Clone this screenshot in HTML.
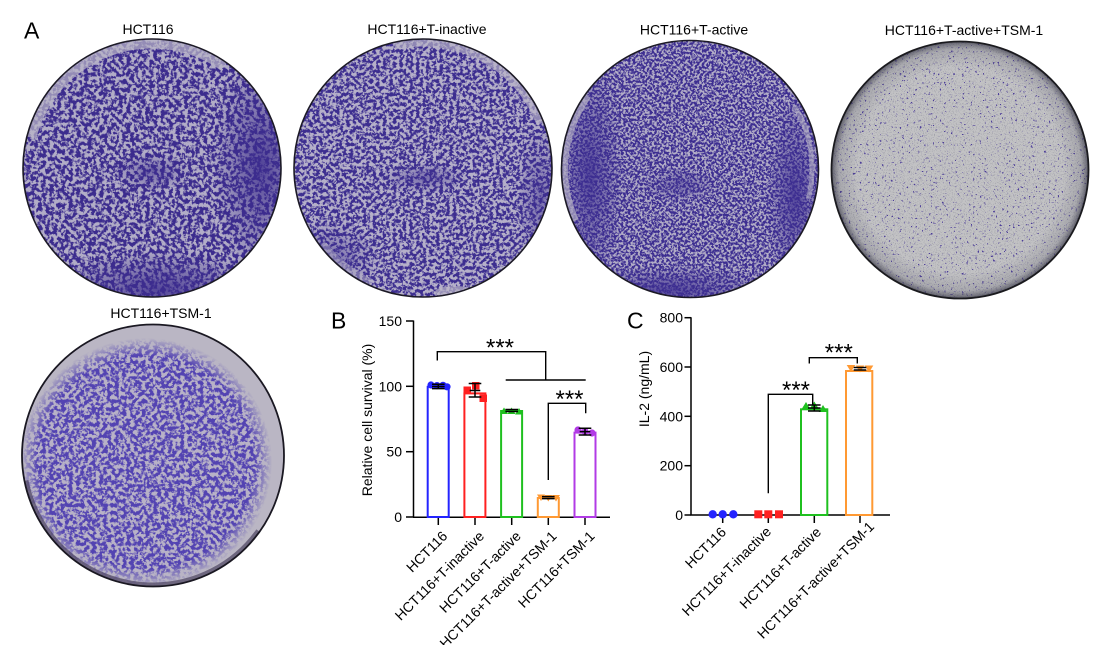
<!DOCTYPE html>
<html><head><meta charset="utf-8"><style>
html,body{margin:0;padding:0;background:#fff;}
svg{display:block;}
text{font-family:"Liberation Sans",Arial,sans-serif;fill:#000;}
</style></head><body>
<svg width="1103" height="645" viewBox="0 0 1103 645" xmlns="http://www.w3.org/2000/svg">
<defs>
 <clipPath id="c1"><circle cx="152" cy="168" r="129"/></clipPath>
 <clipPath id="c2"><circle cx="423" cy="168" r="129"/></clipPath>
 <clipPath id="c3"><circle cx="690" cy="169" r="128.5"/></clipPath>
 <clipPath id="c4"><circle cx="960" cy="170" r="128.5"/></clipPath>
 <clipPath id="c5"><circle cx="153" cy="455.5" r="131"/></clipPath>

 <filter id="sp1" color-interpolation-filters="sRGB" x="0" y="0" width="1" height="1">
  <feTurbulence type="fractalNoise" baseFrequency="0.26" numOctaves="3" seed="3"/>
  <feColorMatrix type="matrix" values="0 0 0 0 0.70  0 0 0 0 0.68  0 0 0 0 0.78  7 0 0 0 -3.05"/>
 </filter>
 <filter id="sp2" color-interpolation-filters="sRGB" x="0" y="0" width="1" height="1">
  <feTurbulence type="fractalNoise" baseFrequency="0.3" numOctaves="3" seed="11"/>
  <feColorMatrix type="matrix" values="0 0 0 0 0.71  0 0 0 0 0.69  0 0 0 0 0.79  7 0 0 0 -3.0"/>
 </filter>
 <filter id="sp3" color-interpolation-filters="sRGB" x="0" y="0" width="1" height="1">
  <feTurbulence type="fractalNoise" baseFrequency="0.42" numOctaves="3" seed="21"/>
  <feColorMatrix type="matrix" values="0 0 0 0 0.70  0 0 0 0 0.68  0 0 0 0 0.78  7 0 0 0 -3.1"/>
 </filter>
 <filter id="sp5" color-interpolation-filters="sRGB" x="0" y="0" width="1" height="1">
  <feTurbulence type="fractalNoise" baseFrequency="0.26" numOctaves="3" seed="31"/>
  <feColorMatrix type="matrix" values="0 0 0 0 0.72  0 0 0 0 0.70  0 0 0 0 0.78  7 0 0 0 -3.05"/>
 </filter>
 <filter id="sp4a" color-interpolation-filters="sRGB" x="0" y="0" width="1" height="1">
  <feTurbulence type="fractalNoise" baseFrequency="0.9" numOctaves="2" seed="41"/>
  <feColorMatrix type="matrix" values="0 0 0 0 0.55  0 0 0 0 0.55  0 0 0 0 0.60  6 0 0 0 -3.3"/>
 </filter>
 <filter id="sp4b" color-interpolation-filters="sRGB" x="0" y="0" width="1" height="1">
  <feTurbulence type="fractalNoise" baseFrequency="0.45" numOctaves="2" seed="7"/>
  <feColorMatrix type="matrix" values="0 0 0 0 0.30  0 0 0 0 0.24  0 0 0 0 0.6  20 0 0 0 -13.6"/>
 </filter>

 <radialGradient id="fb"><stop offset="0" stop-color="#000" stop-opacity="0.8"/><stop offset="1" stop-color="#000" stop-opacity="0"/></radialGradient>
 <radialGradient id="fb2"><stop offset="0" stop-color="#000" stop-opacity="0.5"/><stop offset="1" stop-color="#000" stop-opacity="0"/></radialGradient>
 <radialGradient id="rim4" cx="0.5" cy="0.5" r="0.5">
  <stop offset="0.8" stop-color="#505060" stop-opacity="0"/>
  <stop offset="0.94" stop-color="#505060" stop-opacity="0.22"/>
  <stop offset="1" stop-color="#303040" stop-opacity="0.7"/>
 </radialGradient>
 <radialGradient id="m5g" cx="0.5" cy="0.5" r="0.5">
  <stop offset="0.86" stop-color="#fff"/>
  <stop offset="1" stop-color="#000"/>
 </radialGradient>

 <mask id="m1" maskUnits="userSpaceOnUse" x="0" y="0" width="1103" height="645">
  <rect x="0" y="0" width="1103" height="645" fill="#fff"/>
  <ellipse cx="262" cy="165" rx="50" ry="115" fill="url(#fb)"/>
  <ellipse cx="160" cy="290" rx="115" ry="40" fill="url(#fb)"/>
  <ellipse cx="152" cy="172" rx="40" ry="20" fill="url(#fb2)"/>
 </mask>
 <mask id="m2" maskUnits="userSpaceOnUse" x="0" y="0" width="1103" height="645">
  <rect x="0" y="0" width="1103" height="645" fill="#fff"/>
  <ellipse cx="425" cy="178" rx="45" ry="16" fill="url(#fb2)"/>
  <ellipse cx="330" cy="260" rx="50" ry="40" fill="url(#fb2)"/>
  <ellipse cx="540" cy="200" rx="25" ry="80" fill="url(#fb2)"/>
 </mask>
 <mask id="m3" maskUnits="userSpaceOnUse" x="0" y="0" width="1103" height="645">
  <rect x="0" y="0" width="1103" height="645" fill="#fff"/>
  <ellipse cx="590" cy="175" rx="35" ry="120" fill="url(#fb)"/>
  <ellipse cx="795" cy="195" rx="30" ry="100" fill="url(#fb)"/>
  <ellipse cx="670" cy="290" rx="110" ry="25" fill="url(#fb)"/>
  <ellipse cx="680" cy="185" rx="40" ry="18" fill="url(#fb2)"/>
 </mask>
 <mask id="m5" maskUnits="userSpaceOnUse" x="0" y="0" width="1103" height="645">
  <rect x="0" y="0" width="1103" height="645" fill="#000"/>
  <ellipse cx="146" cy="462" rx="126" ry="124" fill="url(#m5g)"/>
 </mask>
</defs>

<rect x="0" y="0" width="1103" height="645" fill="#fff"/>

<!-- Panel A -->
<text x="24" y="38.5" font-size="23">A</text>
<text x="148" y="34" font-size="14" text-anchor="middle">HCT116</text>
<text x="427" y="34" font-size="14" text-anchor="middle">HCT116+T-inactive</text>
<text x="694" y="34.5" font-size="14" text-anchor="middle">HCT116+T-active</text>
<text x="964" y="35" font-size="14" text-anchor="middle">HCT116+T-active+TSM-1</text>
<text x="161" y="318" font-size="14" text-anchor="middle">HCT116+TSM-1</text>

<!-- Plate 1 -->
<g clip-path="url(#c1)">
 <rect x="23" y="39" width="258" height="258" fill="#3c2c8e"/>
 <rect x="23" y="39" width="258" height="258" filter="url(#sp1)" mask="url(#m1)"/>
 <circle cx="152" cy="168" r="124" fill="none" stroke="#b9b5c8" stroke-width="9" stroke-opacity="0.7" stroke-dasharray="240 540" stroke-dashoffset="-420"/>
</g>
<circle cx="152" cy="168" r="129" fill="none" stroke="#1c1a26" stroke-width="1.6"/>

<!-- Plate 2 -->
<g clip-path="url(#c2)">
 <rect x="294" y="39" width="258" height="258" fill="#3d2e90"/>
 <rect x="294" y="39" width="258" height="258" filter="url(#sp2)" mask="url(#m2)"/>
 <circle cx="423" cy="168" r="125" fill="none" stroke="#bab6c8" stroke-width="7" stroke-opacity="0.65" stroke-dasharray="180 600" stroke-dashoffset="-560"/>
 <circle cx="423" cy="168" r="125" fill="none" stroke="#bab6c8" stroke-width="6" stroke-opacity="0.45" stroke-dasharray="60 720" stroke-dashoffset="-250"/>
 <ellipse cx="455" cy="292" rx="20" ry="6" fill="#bcb8c8" opacity="0.7"/>
</g>
<circle cx="423" cy="168" r="129" fill="none" stroke="#1c1a26" stroke-width="1.6"/>

<!-- Plate 3 -->
<g clip-path="url(#c3)">
 <rect x="561" y="40" width="258" height="258" fill="#3d2e91"/>
 <rect x="561" y="40" width="258" height="258" filter="url(#sp3)" mask="url(#m3)"/>
 <circle cx="690" cy="169" r="125" fill="none" stroke="#b8b4c6" stroke-width="6" stroke-opacity="0.65" stroke-dasharray="130 650" stroke-dashoffset="-340"/>
 <circle cx="690" cy="169" r="122" fill="none" stroke="#b8b4c6" stroke-width="5" stroke-opacity="0.55" stroke-dasharray="110 670" stroke-dashoffset="-700"/>
</g>
<circle cx="690" cy="169" r="128.5" fill="none" stroke="#1c1a26" stroke-width="1.6"/>

<!-- Plate 4 -->
<g clip-path="url(#c4)">
 <rect x="831" y="41" width="258" height="258" fill="#c2c2c4"/>
 <rect x="831" y="41" width="258" height="258" filter="url(#sp4a)" opacity="0.55"/>
 <rect x="831" y="41" width="258" height="258" filter="url(#sp4b)"/>
 <circle cx="960" cy="170" r="128.5" fill="url(#rim4)"/>
</g>
<circle cx="960" cy="170" r="128.5" fill="none" stroke="#1a1a1e" stroke-width="1.8"/>

<!-- Plate 5 -->
<g clip-path="url(#c5)">
 <rect x="22" y="324" width="262" height="264" fill="#bab6c4"/>
 <g mask="url(#m5)">
  <rect x="22" y="324" width="262" height="264" fill="#5343b2"/>
  <rect x="22" y="324" width="262" height="264" filter="url(#sp5)"/>
 </g>
 <circle cx="153" cy="455.5" r="129" fill="none" stroke="#3a3050" stroke-width="4" stroke-opacity="0.6" stroke-dasharray="300 524" stroke-dashoffset="-80"/>
</g>
<circle cx="153" cy="455.5" r="131" fill="none" stroke="#1a1822" stroke-width="1.8"/>

<!-- Panel B -->
<text x="331" y="328.3" font-size="23">B</text>
<g stroke="#000" stroke-width="1.5" fill="none">
 <line x1="413.5" y1="320.5" x2="413.5" y2="517.5"/>
 <line x1="413" y1="517.3" x2="610" y2="517.3"/>
 <line x1="406" y1="321" x2="413.5" y2="321"/>
 <line x1="406" y1="386.3" x2="413.5" y2="386.3"/>
 <line x1="406" y1="451.7" x2="413.5" y2="451.7"/>
 <line x1="406" y1="517" x2="413.5" y2="517"/>
 <line x1="438.3" y1="517" x2="438.3" y2="525"/>
 <line x1="475" y1="517" x2="475" y2="525"/>
 <line x1="511.7" y1="517" x2="511.7" y2="525"/>
 <line x1="548.3" y1="517" x2="548.3" y2="525"/>
 <line x1="585" y1="517" x2="585" y2="525"/>
</g>
<g font-size="14" text-anchor="end">
 <text x="402" y="326">150</text>
 <text x="402" y="391.3">100</text>
 <text x="402" y="456.7">50</text>
 <text x="402" y="522">0</text>
</g>
<text transform="translate(372,420) rotate(-90)" font-size="14" text-anchor="middle">Relative cell survival (%)</text>

<!-- B bars -->
<g fill="none" stroke-width="2">
 <rect x="427.7" y="386.8" width="21" height="130.2" stroke="#2424ff"/>
 <rect x="464.4" y="393.4" width="21" height="123.6" stroke="#ff2020"/>
 <rect x="501.1" y="411" width="21" height="106" stroke="#1fc01f"/>
 <rect x="537.8" y="498" width="21" height="19" stroke="#ff9933"/>
 <rect x="574.5" y="432.6" width="21" height="84.4" stroke="#b23be6"/>
</g>
<!-- B points -->
<g fill="#2424ff">
 <circle cx="431" cy="385" r="3.6"/><circle cx="437" cy="385.6" r="3.6"/><circle cx="443" cy="385.3" r="3.6"/><circle cx="447" cy="386.8" r="3.6"/>
</g>
<g fill="#ff2020">
 <rect x="463.5" y="386.5" width="7.5" height="7.5"/><rect x="472" y="382" width="7.5" height="7.5"/><rect x="479.5" y="394.5" width="7.5" height="7.5"/>
</g>
<g fill="#1fc01f">
 <path d="M504 407.5 L508 414 L500 414Z"/><path d="M511.5 407.5 L515.5 414 L507.5 414Z"/><path d="M519 408 L523 414.5 L515 414.5Z"/>
</g>
<g fill="#ff9933">
 <path d="M537 494.5 L545 494.5 L541 501Z"/><path d="M544.3 495 L552.3 495 L548.3 501.5Z"/><path d="M552 495 L560 495 L556 501.5Z"/>
</g>
<g fill="#b23be6">
 <circle cx="578" cy="430" r="3.6"/><circle cx="585" cy="431.5" r="3.6"/><circle cx="592" cy="433" r="3.6"/>
</g>
<!-- B error bars -->
<g stroke="#000" stroke-width="1.5" fill="none">
 <path d="M432 384.3 H444.6 M438.3 384.3 V388.6 M432 388.6 H444.6 M432 386.5 H444.6"/>
 <path d="M468.7 383.5 H481.3 M475 383.5 V397 M468.7 397 H481.3 M469.7 390.5 H480.3"/>
 <path d="M505.4 409.5 H518 M505.4 411.5 H518"/>
 <path d="M542 496.6 H554.6 M542 498.6 H554.6"/>
 <path d="M578.7 428.2 H591.3 M585 428.2 V435 M578.7 435 H591.3 M579.7 431.6 H590.3"/>
</g>
<!-- B brackets -->
<g stroke="#000" stroke-width="1.4" fill="none">
 <path d="M437.3 360.5 V351.7 H545.7 V380"/>
 <path d="M505.7 380 H585.7"/>
 <path d="M548.3 480 V403.3 H585.7 V413.3"/>
</g>
<text x="500" y="355.5" font-size="24" text-anchor="middle">***</text>
<text x="569.5" y="407" font-size="24" text-anchor="middle">***</text>
<!-- B x labels -->
<g font-size="14" text-anchor="end">
 <text transform="translate(448.3,537) rotate(-45)">HCT116</text>
 <text transform="translate(485,537) rotate(-45)">HCT116+T-inactive</text>
 <text transform="translate(521.7,537) rotate(-45)">HCT116+T-active</text>
 <text transform="translate(557.5,537) rotate(-45)">HCT116+T-active+TSM-1</text>
 <text transform="translate(595.5,537) rotate(-45)">HCT116+TSM-1</text>
</g>

<!-- Panel C -->
<text x="627" y="328.3" font-size="23">C</text>
<g stroke="#000" stroke-width="1.5" fill="none">
 <line x1="691" y1="317.2" x2="691" y2="515.5"/>
 <line x1="690.5" y1="515" x2="890" y2="515"/>
 <line x1="684.5" y1="317.7" x2="691" y2="317.7"/>
 <line x1="684.5" y1="367" x2="691" y2="367"/>
 <line x1="684.5" y1="416.3" x2="691" y2="416.3"/>
 <line x1="684.5" y1="465.7" x2="691" y2="465.7"/>
 <line x1="684.5" y1="515" x2="691" y2="515"/>
 <line x1="722.7" y1="515" x2="722.7" y2="523"/>
 <line x1="768.3" y1="515" x2="768.3" y2="523"/>
 <line x1="814.3" y1="515" x2="814.3" y2="523"/>
 <line x1="860" y1="515" x2="860" y2="523"/>
</g>
<g font-size="14" text-anchor="end">
 <text x="683" y="322.7">800</text>
 <text x="683" y="372">600</text>
 <text x="683" y="421.3">400</text>
 <text x="683" y="470.7">200</text>
 <text x="683" y="520">0</text>
</g>
<text transform="translate(649,389) rotate(-90)" font-size="14" text-anchor="middle">IL-2 (ng/mL)</text>

<g fill="none" stroke-width="2">
 <rect x="801" y="409.3" width="26.3" height="105.7" stroke="#1fc01f"/>
 <rect x="846" y="371" width="26.3" height="144" stroke="#ff9933"/>
</g>
<g fill="#2424ff">
 <circle cx="712.7" cy="514.3" r="4.2"/><circle cx="722.7" cy="514.3" r="4.2"/><circle cx="733.3" cy="514.3" r="4.2"/>
</g>
<g fill="#ff2020">
 <rect x="754.3" y="510.3" width="8" height="8"/><rect x="764.3" y="510.3" width="8" height="8"/><rect x="775" y="510.3" width="8" height="8"/>
</g>
<g fill="#1fc01f">
 <path d="M806 402 L810.3 409 L801.7 409Z"/><path d="M814.3 401.5 L818.6 408.5 L810 408.5Z"/><path d="M823 405 L827.3 412 L818.7 412Z"/>
</g>
<g fill="#ff9933">
 <path d="M846.7 365 L855.3 365 L851 372Z"/><path d="M855.7 365.5 L864.3 365.5 L860 372.5Z"/><path d="M864.7 365.5 L873.3 365.5 L869 372.5Z"/>
</g>
<g stroke="#000" stroke-width="1.5" fill="none">
 <path d="M808 405 H820.6 M814.3 405 V411 M808 411 H820.6 M808 408 H820.6"/>
 <path d="M853.7 367.5 H866.3 M853.7 370 H866.3"/>
</g>
<g stroke="#000" stroke-width="1.4" fill="none">
 <path d="M768.3 493.3 V394.3 H812.7 V405"/>
 <path d="M809.3 363.5 V357.7 H857.3 V363.5"/>
</g>
<text x="796" y="398" font-size="24" text-anchor="middle">***</text>
<text x="838.8" y="360.3" font-size="24" text-anchor="middle">***</text>
<g font-size="14" text-anchor="end">
 <text transform="translate(727,533) rotate(-45)">HCT116</text>
 <text transform="translate(772,532.5) rotate(-45)">HCT116+T-inactive</text>
 <text transform="translate(822,533) rotate(-45)">HCT116+T-active</text>
 <text transform="translate(875,527.5) rotate(-45)">HCT116+T-active+TSM-1</text>
</g>
</svg>
</body></html>
